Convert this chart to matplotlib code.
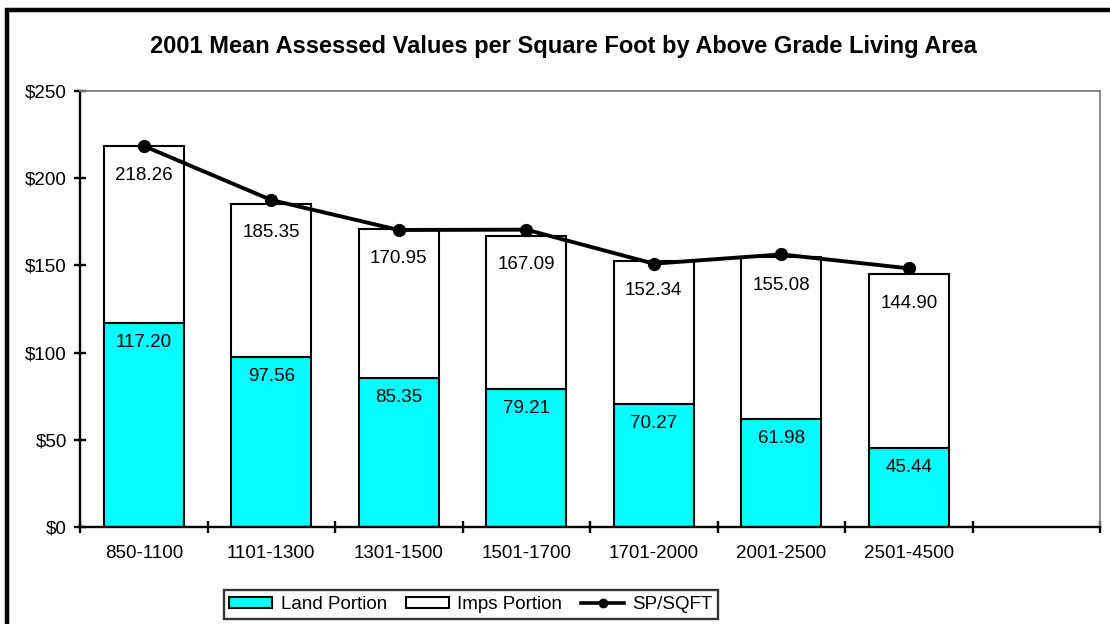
import matplotlib
matplotlib.use("Agg")
import matplotlib.pyplot as plt
import numpy as np
from matplotlib.patches import Patch, Rectangle
from matplotlib.lines import Line2D

categories = ["850-1100", "1101-1300", "1301-1500", "1501-1700", "1701-2000", "2001-2500", "2501-4500"]
land = [117.20, 97.56, 85.35, 79.21, 70.27, 61.98, 45.44]
total = [218.26, 185.35, 170.95, 167.09, 152.34, 155.08, 144.90]
sp_sqft = [218.5, 187.5, 170.3, 170.5, 151.0, 156.3, 148.3]
yticks = [0, 50, 100, 150, 200, 250]
ytick_labels = ["$0", "$50", "$100", "$150", "$200", "$250"]
title = "2001 Mean Assessed Values per Square Foot by Above Grade Living Area"

imps = [t - l for t, l in zip(total, land)]

plt.rcParams['font.family'] = ['Liberation Sans', 'DejaVu Sans']

fig = plt.figure(figsize=(11.1, 6.24), dpi=100)
ax = fig.add_axes([80/1110, 1-527/624, 1020/1110, 436/624])

x = np.arange(len(categories))
w = 0.63
fs = 13.5
ax.bar(x, land, w, color="#00FFFF", edgecolor="black", linewidth=1.5, zorder=2)
ax.bar(x, imps, w, bottom=land, color="white", edgecolor="black", linewidth=1.5, zorder=2)
ax.plot(x, sp_sqft, color="black", linewidth=2.8, marker="o", markersize=8.5, zorder=3)

for xi, t in zip(x, total):
    ax.annotate(f"{t:.2f}", (xi, t), xytext=(0, -21), textcoords="offset points",
                ha="center", va="center", fontsize=fs, zorder=4)
for xi, l in zip(x, land):
    ax.annotate(f"{l:.2f}", (xi, l), xytext=(0, -14), textcoords="offset points",
                ha="center", va="center", fontsize=fs, zorder=4)

ax.set_xlim(-0.5, 7.5)
ax.set_ylim(0, 250)
ax.set_xticks(x)
ax.set_xticklabels(categories, fontsize=fs)
ax.set_xticks(np.arange(-0.5, 8.0, 1.0), minor=True)
ax.tick_params(axis="x", which="major", length=0, pad=13)
ax.tick_params(axis="x", which="minor", direction="inout", length=9, width=1.7)
ax.set_yticks(yticks)
ax.set_yticklabels(ytick_labels, fontsize=fs)
ax.tick_params(axis="y", which="major", direction="inout", length=9, width=1.7, pad=5)

for s in ["left", "bottom"]:
    ax.spines[s].set_color("black")
    ax.spines[s].set_linewidth(1.7)
for s in ["top", "right"]:
    ax.spines[s].set_color("#808080")
    ax.spines[s].set_linewidth(1.3)

fig.text(563/1110, 1-46/624, title, ha="center", va="center", fontsize=17, fontweight="bold")

handles = [Patch(facecolor="#00FFFF", edgecolor="black", linewidth=1.5),
           Patch(facecolor="white", edgecolor="black", linewidth=1.5),
           Line2D([], [], color="black", linewidth=2.6, marker="o", markersize=6)]
leg = fig.legend(handles, ["Land Portion", "Imps Portion", "SP/SQFT"], loc="center",
                 bbox_to_anchor=(471/1110, 1-604.5/624), ncol=3, fontsize=fs,
                 frameon=True, fancybox=False, edgecolor="black", handlelength=2.3,
                 handleheight=0.55, handletextpad=0.45, columnspacing=1.0,
                 borderpad=0.3, borderaxespad=0)
leg.get_frame().set_linewidth(1.7)

fig.patches.append(Rectangle((6.5/1110, -0.2), 1.5, 0.2 + 1 - 9.5/624, transform=fig.transFigure,
                             fill=False, edgecolor="black", linewidth=3.2))

fig.savefig("out.png", dpi=100)
